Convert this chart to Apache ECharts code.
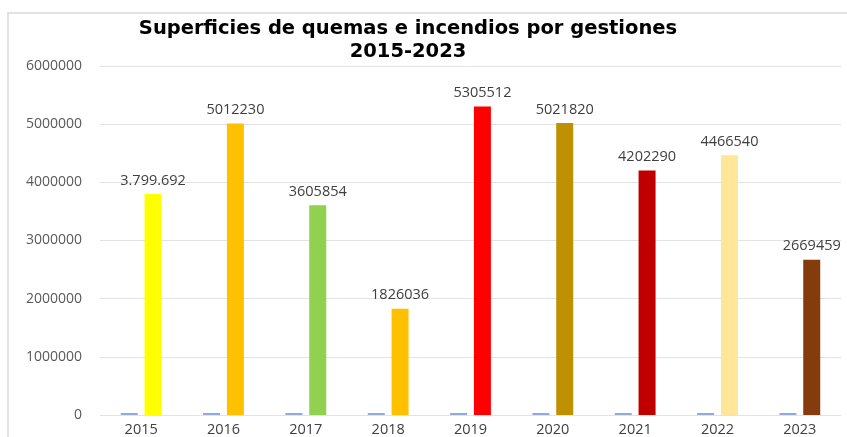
<!DOCTYPE html>
<html>
<head>
<meta charset="utf-8">
<script src="https://cdn.jsdelivr.net/npm/echarts@6/dist/echarts.min.js"></script>
<style>
  html, body { margin: 0; padding: 0; background: #fff; }
  #main { width: 847px; height: 437px; }
</style>
</head>
<body>
<div id="main"></div>
<script>
// datos
const years = ["2015", "2016", "2017", "2018", "2019", "2020", "2021", "2022", "2023"];
// la serie "gestion" fue graficada por error (valores = anio), casi invisible
const gestion = [2015, 2016, 2017, 2018, 2019, 2020, 2021, 2022, 2023];
const superficie = [3799692, 5012230, 3605854, 1826036, 5305512, 5021820, 4202290, 4466540, 2669459];
const labelText = ["3.799.692", "5012230", "3605854", "1826036", "5305512", "5021820", "4202290", "4466540", "2669459"];
const barColors = ["#FFFF00", "#FFC000", "#92D050", "#FFC000", "#FF0000", "#BF9000", "#C00000", "#FFE699", "#843C0C"];
const yTicks = [0, 1000000, 2000000, 3000000, 4000000, 5000000, 6000000];

const chart = echarts.init(document.getElementById("main"));
chart.setOption({
  backgroundColor: "#fff",
  animation: false,
  graphic: [{
    type: "rect",
    shape: { x: 8, y: 13, width: 860, height: 440 },
    style: { fill: "none", stroke: "#d9d9d9", lineWidth: 1.5 },
    silent: true
  }],
  title: {
    text: "Superficies de quemas e incendios por gestiones\n2015-2023",
    left: 403,
    textAlign: "center",
    top: 12,
    textStyle: {
      fontFamily: "DejaVu Sans",
      fontWeight: "bold",
      fontSize: 19.5,
      color: "#000",
      lineHeight: 23
    }
  },
  grid: { left: 100, right: 6, top: 66, bottom: 20 },
  xAxis: {
    type: "category",
    data: years,
    axisLine: { show: false },
    axisTick: { show: false },
    axisLabel: {
      color: "#404040",
      fontFamily: "Open Sans",
      fontSize: 14.5,
      margin: 7
    }
  },
  yAxis: {
    type: "value",
    min: yTicks[0],
    max: yTicks[yTicks.length - 1],
    interval: 1000000,
    axisLine: { show: false },
    axisTick: { show: false },
    splitLine: { lineStyle: { color: "#e3e3e3", width: 1 } },
    axisLabel: {
      color: "#595959",
      fontFamily: "Open Sans",
      fontSize: 14,
      margin: 18,
      formatter: (v) => String(v)
    }
  },
  series: [
    {
      name: "Gestión",
      type: "bar",
      data: gestion,
      barWidth: 17,
      barGap: "40%",
      barMinHeight: 2,
      itemStyle: { color: "#8FAADC" }
    },
    {
      name: "Superficie",
      type: "bar",
      data: superficie.map((v, i) => ({ value: v, itemStyle: { color: barColors[i] } })),
      barWidth: 17,
      label: {
        show: true,
        position: "top",
        distance: 6,
        color: "#404040",
        fontFamily: "Open Sans",
        fontSize: 14.5,
        formatter: (p) => labelText[p.dataIndex]
      }
    }
  ]
});
</script>
</body>
</html>
